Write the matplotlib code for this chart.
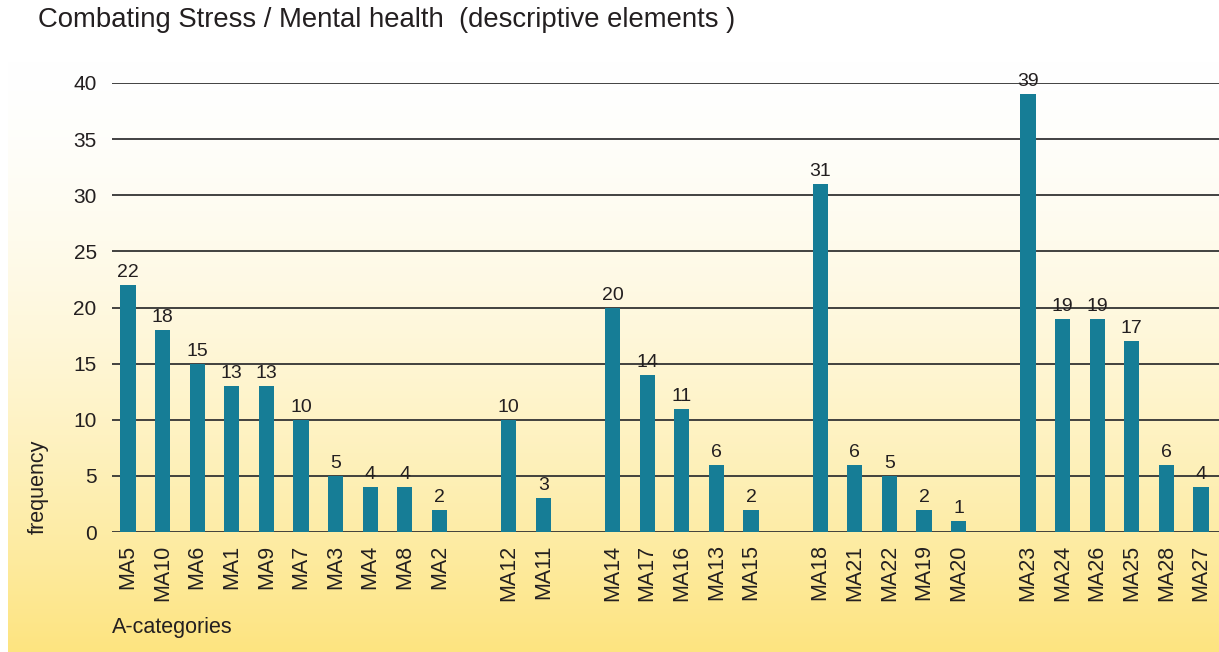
import numpy as np
import matplotlib
matplotlib.use("Agg")
import matplotlib.pyplot as plt

plt.rcParams['font.family'] = ['Liberation Sans', 'DejaVu Sans']

# data ------------------------------------------------------------------------
categories = ["MA5", "MA10", "MA6", "MA1", "MA9", "MA7", "MA3", "MA4", "MA8", "MA2",
              "MA12", "MA11",
              "MA14", "MA17", "MA16", "MA13", "MA15",
              "MA18", "MA21", "MA22", "MA19", "MA20",
              "MA23", "MA24", "MA26", "MA25", "MA28", "MA27"]
values = [22, 18, 15, 13, 13, 10, 5, 4, 4, 2,
          10, 3,
          20, 14, 11, 6, 2,
          31, 6, 5, 2, 1,
          39, 19, 19, 17, 6, 4]
group_sizes = [10, 2, 5, 5, 6]
yticks = [0, 5, 10, 15, 20, 25, 30, 35, 40]

# positions: one empty slot between groups
pos = []
start = 0
for g in group_sizes:
    pos += list(range(start, start + g))
    start += g + 1
pos = np.array(pos)

bar_color = "#167d96"
txt = "#231f20"

fig = plt.figure(figsize=(12.19, 6.52), dpi=100)

# gradient panel behind the chart
bg = fig.add_axes([8 / 1219, 0, 1 - 8 / 1219, (652 - 61) / 652], zorder=0)
t = np.linspace(0, 1, 256) ** 1.6
top = np.array([1.0, 1.0, 1.0])
bot = np.array([0xfd, 0xe4, 0x80]) / 255
grad = top[None, :] * (1 - t[:, None]) + bot[None, :] * t[:, None]
bg.imshow(grad[:, None, :], aspect="auto", extent=[0, 1, 0, 1])
bg.axis("off")

ax = fig.add_axes([112 / 1219, 1 - 532 / 652, 1 - 112 / 1219, (532 - 83) / 652], zorder=1)
ax.patch.set_alpha(0)

for y in yticks:
    ax.axhline(y, color="#333333", lw=1.3, zorder=1)

ax.bar(pos, values, width=0.44, color=bar_color, zorder=2)
for x, v in zip(pos, values):
    ax.text(x, v + 0.35, str(v), ha="center", va="bottom", fontsize=14, color=txt)

ax.set_xlim(-0.46, pos[-1] + 0.52)
ax.set_ylim(0, 40)
ax.set_yticks(yticks)
ax.set_xticks(pos)
ax.set_xticklabels(categories, rotation=90, fontsize=15.5, color=txt)
ax.tick_params(axis="y", length=0, pad=11, labelsize=15, labelcolor=txt)
ax.tick_params(axis="x", length=0, pad=9)
for s in ax.spines.values():
    s.set_visible(False)

fig.text(38 / 1219, 1 - 487 / 652, "frequency", rotation=90, ha="center", va="center",
         fontsize=15.5, color=txt)
fig.text(112 / 1219, 1 - 628 / 652, "A-categories", ha="left", va="center",
         fontsize=15.5, color=txt)
fig.text(38 / 1219, 1 - 20 / 652, "Combating Stress / Mental health  (descriptive elements )",
         ha="left", va="center", fontsize=19.8, color=txt)

fig.savefig("out.png", dpi=100)
